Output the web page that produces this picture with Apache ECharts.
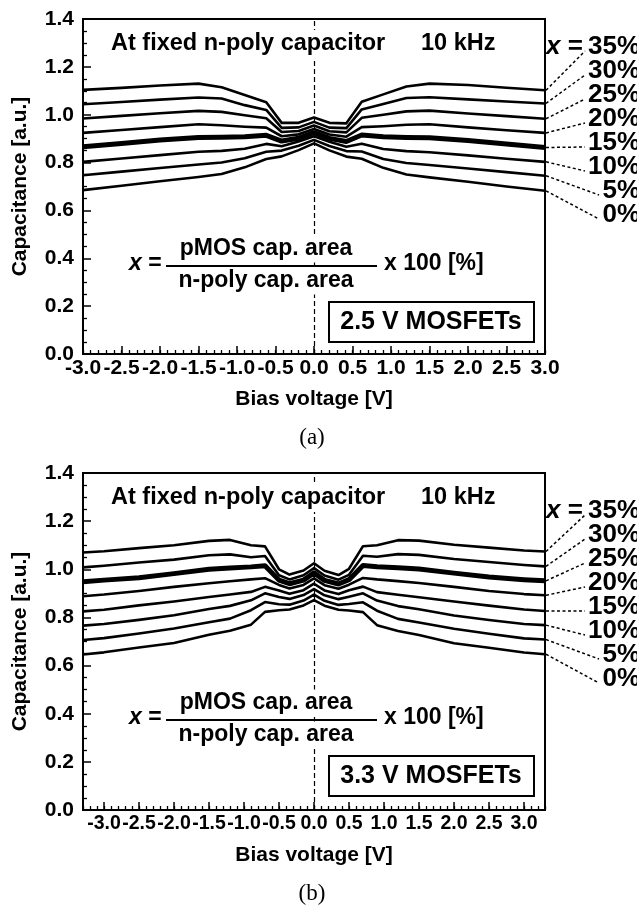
<!DOCTYPE html>
<html>
<head>
<meta charset="utf-8">
<script src="https://cdn.jsdelivr.net/npm/echarts@6/dist/echarts.min.js"></script>
<style>
  body{margin:0;background:#fff;}
  #chart{width:637px;height:910px;}
</style>
</head>
<body>
<div id="chart"></div>
<script>
// x = pMOS cap. area / n-poly cap. area, one curve per ratio
var ratios = ['35%', '30%', '25%', '20%', '15%', '10%', '5%', '0%'];

// (a) 2.5 V MOSFETs
var biasA = [-3.0, -2.5, -2.0, -1.5, -1.2, -0.9, -0.62, -0.42, -0.2, 0, 0.2, 0.42, 0.62, 0.9, 1.2, 1.5, 2.0, 2.5, 3.0];
var capA35 = [1.104, 1.112, 1.122, 1.130, 1.115, 1.082, 1.052, 0.966, 0.966, 0.988, 0.966, 0.964, 1.054, 1.085, 1.118, 1.130, 1.124, 1.113, 1.102];
var capA30 = [1.044, 1.053, 1.063, 1.072, 1.068, 1.040, 1.020, 0.945, 0.947, 0.970, 0.946, 0.944, 1.022, 1.045, 1.070, 1.073, 1.064, 1.055, 1.047];
var capA25 = [0.984, 0.995, 1.006, 1.016, 1.012, 0.998, 0.985, 0.928, 0.932, 0.955, 0.931, 0.926, 0.987, 1.000, 1.014, 1.017, 1.005, 0.994, 0.983];
var capA20 = [0.924, 0.936, 0.948, 0.960, 0.956, 0.950, 0.946, 0.910, 0.918, 0.940, 0.917, 0.908, 0.948, 0.952, 0.958, 0.960, 0.947, 0.935, 0.924];
var capA15 = [0.866, 0.880, 0.894, 0.905, 0.906, 0.908, 0.914, 0.890, 0.902, 0.925, 0.901, 0.888, 0.915, 0.908, 0.905, 0.904, 0.892, 0.878, 0.863];
var capA10 = [0.803, 0.817, 0.831, 0.845, 0.849, 0.858, 0.878, 0.868, 0.888, 0.910, 0.887, 0.866, 0.879, 0.857, 0.848, 0.843, 0.830, 0.816, 0.803];
var capA05 = [0.747, 0.762, 0.777, 0.792, 0.800, 0.818, 0.845, 0.850, 0.870, 0.895, 0.869, 0.848, 0.846, 0.815, 0.798, 0.790, 0.775, 0.760, 0.745];
var capA00 = [0.685, 0.703, 0.722, 0.740, 0.752, 0.780, 0.815, 0.826, 0.852, 0.880, 0.851, 0.825, 0.816, 0.778, 0.750, 0.738, 0.720, 0.700, 0.682];

// (b) 3.3 V MOSFETs
var biasB = [-3.3, -3.0, -2.5, -2.0, -1.5, -1.2, -0.9, -0.7, -0.5, -0.35, -0.15, 0, 0.15, 0.35, 0.5, 0.7, 0.9, 1.2, 1.5, 2.0, 2.5, 3.0, 3.3];
var capB35 = [1.070, 1.075, 1.088, 1.100, 1.118, 1.122, 1.100, 1.095, 1.000, 0.978, 0.995, 1.025, 0.994, 0.976, 1.002, 1.096, 1.100, 1.121, 1.119, 1.102, 1.090, 1.078, 1.074];
var capB30 = [1.008, 1.015, 1.028, 1.040, 1.058, 1.062, 1.050, 1.055, 0.975, 0.958, 0.975, 1.005, 0.974, 0.957, 0.977, 1.056, 1.052, 1.063, 1.060, 1.043, 1.030, 1.018, 1.012];
var capB25 = [0.948, 0.955, 0.965, 0.982, 1.000, 1.005, 1.010, 1.015, 0.955, 0.940, 0.955, 0.985, 0.954, 0.939, 0.957, 1.016, 1.011, 1.006, 1.001, 0.984, 0.968, 0.957, 0.952];
var capB20 = [0.888, 0.895, 0.910, 0.927, 0.942, 0.950, 0.958, 0.963, 0.935, 0.920, 0.935, 0.962, 0.934, 0.919, 0.936, 0.964, 0.958, 0.951, 0.943, 0.927, 0.910, 0.897, 0.892];
var capB15 = [0.825, 0.832, 0.850, 0.866, 0.885, 0.895, 0.906, 0.927, 0.912, 0.898, 0.913, 0.940, 0.912, 0.897, 0.913, 0.928, 0.905, 0.894, 0.884, 0.866, 0.849, 0.833, 0.827];
var capB10 = [0.766, 0.773, 0.790, 0.809, 0.835, 0.848, 0.871, 0.900, 0.885, 0.877, 0.893, 0.918, 0.892, 0.876, 0.886, 0.900, 0.870, 0.847, 0.834, 0.808, 0.789, 0.773, 0.768];
var capB05 = [0.706, 0.714, 0.733, 0.754, 0.780, 0.795, 0.830, 0.864, 0.855, 0.853, 0.870, 0.895, 0.869, 0.852, 0.856, 0.863, 0.828, 0.794, 0.779, 0.753, 0.732, 0.713, 0.708];
var capB00 = [0.646, 0.655, 0.675, 0.694, 0.728, 0.745, 0.770, 0.823, 0.830, 0.833, 0.850, 0.872, 0.849, 0.832, 0.829, 0.822, 0.768, 0.744, 0.727, 0.693, 0.674, 0.654, 0.647];

// axis ticks
var biasTicks = [-3.0, -2.5, -2.0, -1.5, -1.0, -0.5, 0.0, 0.5, 1.0, 1.5, 2.0, 2.5, 3.0];

var FONT = '"Liberation Sans", Arial, sans-serif';
var BLACK = '#000';

var panels = [
  { top: 19, height: 335, min: -3.0, max: 3.0, bias: biasA, tickFont: 21,
    curves: [capA35, capA30, capA25, capA20, capA15, capA10, capA05, capA00],
    thick: 4, box: '2.5 V MOSFETs', tag: '(a)', labelTop: 47 },
  { top: 473, height: 337, min: -3.3, max: 3.3, bias: biasB, tickFont: 19.5,
    curves: [capB35, capB30, capB25, capB20, capB15, capB10, capB05, capB00],
    thick: 2, box: '3.3 V MOSFETs', tag: '(b)', labelTop: 511 }
];
var LEFT = 83, WIDTH = 462;

var chart = echarts.init(document.getElementById('chart'));

var grids = [], xAxes = [], yAxes = [], series = [];
panels.forEach(function (p, pi) {
  grids.push({ left: LEFT, top: p.top, width: WIDTH, height: p.height,
    show: true, borderColor: BLACK, borderWidth: 2, backgroundColor: 'transparent' });
  // minor ticks every 0.1 V
  xAxes.push({ gridIndex: pi, type: 'value', position: 'bottom', min: p.min, max: p.max, interval: 0.1,
    axisLine: { show: true, onZero: false, lineStyle: { color: BLACK, width: 2 } },
    axisTick: { inside: true, length: 4, lineStyle: { color: BLACK, width: 1.3 } },
    axisLabel: { show: false }, splitLine: { show: false } });
  // major ticks + labels
  xAxes.push({ gridIndex: pi, type: 'value', position: 'bottom', min: p.min, max: p.max,
    axisLine: { show: false, onZero: false },
    axisTick: { inside: true, length: 8, customValues: biasTicks, lineStyle: { color: BLACK, width: 1.5 } },
    axisLabel: { customValues: biasTicks, margin: 4, color: BLACK, hideOverlap: false,
      showMinLabel: true, showMaxLabel: true,
      fontFamily: FONT, fontWeight: 'bold', fontSize: p.tickFont,
      formatter: function (v) { return v.toFixed(1); } },
    splitLine: { show: false } });
  yAxes.push({ gridIndex: pi, type: 'value', min: 0, max: 1.4, interval: 0.2,
    axisLine: { show: true, onZero: false, lineStyle: { color: BLACK, width: 2 } },
    axisTick: { inside: true, length: 8, lineStyle: { color: BLACK, width: 1.5 } },
    minorTick: { show: true, splitNumber: 4, length: 4, lineStyle: { color: BLACK, width: 1.3 } },
    axisLabel: { margin: 9, color: BLACK, fontFamily: FONT, fontWeight: 'bold', fontSize: 21,
      formatter: function (v) { return v.toFixed(1); } },
    splitLine: { show: false },
    name: 'Capacitance [a.u.]', nameLocation: 'middle', nameGap: 52,
    nameTextStyle: { color: BLACK, fontFamily: FONT, fontWeight: 'bold', fontSize: 21 } });

  p.curves.forEach(function (vals, ci) {
    var s = {
      type: 'line', name: p.tag + ratios[ci], xAxisIndex: pi * 2 + 1, yAxisIndex: pi,
      data: p.bias.map(function (x, i) { return [x, vals[i]]; }),
      showSymbol: false, silent: true, animation: false,
      lineStyle: { color: BLACK, width: ci === p.thick ? 5 : 2.6, join: 'round' }
    };
    if (ci === 0) {
      s.markLine = { silent: true, symbol: ['none', 'none'], label: { show: false },
        lineStyle: { color: BLACK, width: 1.2, type: [5, 3] }, data: [{ xAxis: 0 }] };
    }
    series.push(s);
  });
});

chart.setOption({
  animation: false,
  grid: grids, xAxis: xAxes, yAxis: yAxes, series: series
});

// annotations, leader lines start at each curve's last point
var graphics = [];
function txt(o) {
  var st = { text: o.text, x: o.x, y: o.y, fill: BLACK,
    font: (o.italic ? 'italic ' : '') + (o.weight || 'bold') + ' ' + o.size + 'px ' + (o.family || FONT),
    align: o.align || 'left', verticalAlign: 'middle' };
  if (o.bg) { st.backgroundColor = '#fff'; st.padding = [2, 2]; }
  if (o.rich) st.rich = o.rich;
  graphics.push({ type: 'text', z: 100, style: st });
}

panels.forEach(function (p, pi) {
  var T = p.top;
  txt({ text: 'At fixed n-poly capacitor', x: 109, y: T + 25, size: 23.5, bg: true });
  txt({ text: '10 kHz', x: 421, y: T + 25, size: 23.5 });

  // formula
  txt({ text: '{i|x} =', x: 127, y: T + 245, size: 23, bg: true,
    rich: { i: { fontStyle: 'italic', fontWeight: 'bold', fontSize: 23, fontFamily: FONT } } });
  txt({ text: 'pMOS cap. area', x: 266, y: T + 230, size: 23, align: 'center', bg: true });
  txt({ text: 'n-poly cap. area', x: 266, y: T + 262, size: 23, align: 'center', bg: true });
  graphics.push({ type: 'line', z: 101, shape: { x1: 166, y1: T + 247, x2: 377, y2: T + 247 },
    style: { stroke: BLACK, lineWidth: 2 } });
  txt({ text: 'x 100 [%]', x: 384, y: T + 245, size: 23 });

  // MOSFET box
  graphics.push({ type: 'rect', z: 100, shape: { x: 329, y: T + 283, width: 205, height: 40 },
    style: { fill: '#fff', stroke: BLACK, lineWidth: 2 } });
  txt({ text: p.box, x: 431, y: T + 303, size: 25, align: 'center' });

  // axis title and panel tag
  txt({ text: 'Bias voltage [V]', x: LEFT + WIDTH / 2, y: T + p.height + 45, size: 21, align: 'center' });
  txt({ text: p.tag, x: 312, y: T + p.height + 84, size: 23, weight: 'normal', align: 'center',
    family: '"Liberation Serif", "Times New Roman", serif' });

  // ratio labels with dashed leaders
  txt({ text: '{i|x} =', x: 546, y: p.labelTop, size: 26,
    rich: { i: { fontStyle: 'italic', fontWeight: 'bold', fontSize: 26, fontFamily: FONT } } });
  p.curves.forEach(function (vals, ci) {
    var n = vals.length - 1;
    var start = chart.convertToPixel({ xAxisIndex: pi * 2 + 1, yAxisIndex: pi }, [p.bias[n], vals[n]]);
    var ly = p.labelTop + ci * 24;
    var w = ratios[ci].length === 3 ? 52 : 38;
    txt({ text: ratios[ci], x: 640, y: ly, size: 26, align: 'right' });
    graphics.push({ type: 'line', z: 99,
      shape: { x1: start[0] + 1, y1: start[1], x2: 640 - w - 3, y2: ly + 4 },
      style: { stroke: BLACK, lineWidth: 1.5, lineDash: [3, 2.5] } });
  });
});

chart.setOption({ graphic: graphics });
</script>
</body>
</html>
